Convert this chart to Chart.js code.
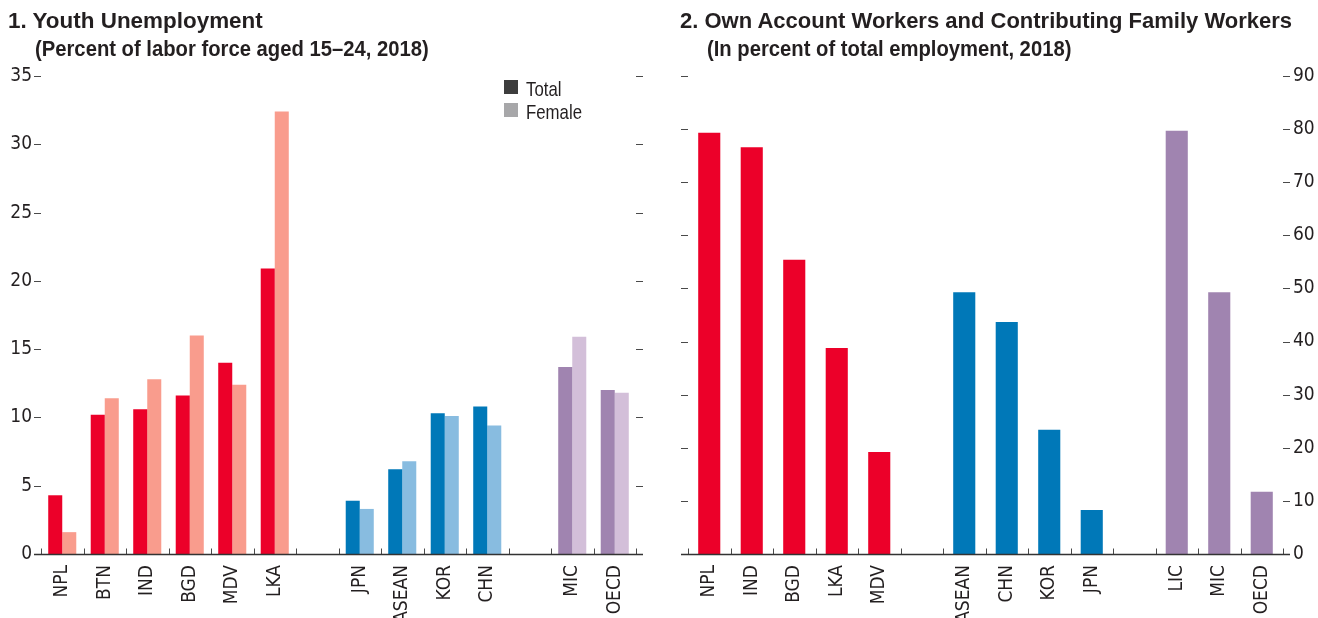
<!DOCTYPE html>
<html>
<head>
<meta charset="utf-8">
<script src="https://cdn.jsdelivr.net/npm/chart.js@4.4.1/dist/chart.umd.min.js"></script>
<style>
  body { margin: 0; background: #fff; }
  #wrap { position: relative; width: 1318px; height: 618px; overflow: hidden;
          font-family: "Liberation Sans", Arial, sans-serif; color: #231f20; }
  .panel { position: absolute; top: 0; width: 659px; height: 618px; }
  .title { position: absolute; font-weight: bold; font-size: 22px; line-height: 28px; white-space: nowrap; }
  .title span { display: block; transform-origin: left top; }
  .title .head { transform: scaleX(1.02); }
  .title .head.wide { transform: scaleX(1.0); }
  .title .sub { margin-left: 27px; transform: scaleX(0.92); }
  .legend { position: absolute; left: 504px; top: 77px; font-size: 21px; line-height: 23px; }
  .legend div { position: relative; padding-left: 22px; height: 23px; }
  .legend i { position: absolute; left: 0; top: 3px; width: 14px; height: 14px; }
  .legend span { display: inline-block; transform: scaleX(0.8); transform-origin: left center; }
</style>
</head>
<body>
<div id="wrap">
  <div class="panel" style="left:0"><canvas id="youth" width="659" height="618"></canvas></div>
  <div class="panel" style="left:659px"><canvas id="ownAccount" width="659" height="618"></canvas></div>
  <div class="title" style="left:8px;top:7px">
    <span class="head">1. Youth Unemployment</span>
    <span class="sub">(Percent of labor force aged 15–24, 2018)</span>
  </div>
  <div class="title" style="left:680px;top:7px">
    <span class="head wide">2. Own Account Workers and Contributing Family Workers</span>
    <span class="sub">(In percent of total employment, 2018)</span>
  </div>
  <div class="legend">
    <div><i style="background:#3d3d3d"></i><span>Total</span></div>
    <div><i style="background:#a7a7a9"></i><span>Female</span></div>
  </div>
</div>
<script>
// panel 1: youth unemployment
const youthLabels = ['NPL', 'BTN', 'IND', 'BGD', 'MDV', 'LKA', '', 'JPN', 'ASEAN', 'KOR', 'CHN', '', 'MIC', 'OECD'];
const youthGroups = ['sa', 'sa', 'sa', 'sa', 'sa', 'sa', '', 'ea', 'ea', 'ea', 'ea', '', 'ref', 'ref'];
const youthTotal = [4.3, 10.2, 10.6, 11.6, 14.0, 20.9, null, 3.9, 6.2, 10.3, 10.8, null, 13.7, 12.0];
const youthFemale = [1.6, 11.4, 12.8, 16.0, 12.4, 32.4, null, 3.3, 6.8, 10.1, 9.4, null, 15.9, 11.8];
const youthTicks = [0, 5, 10, 15, 20, 25, 30, 35];

// panel 2: own account + contributing family workers
const ownLabels = ['NPL', 'IND', 'BGD', 'LKA', 'MDV', '', 'ASEAN', 'CHN', 'KOR', 'JPN', '', 'LIC', 'MIC', 'OECD'];
const ownGroups = ['sa', 'sa', 'sa', 'sa', 'sa', '', 'ea', 'ea', 'ea', 'ea', '', 'ref', 'ref', 'ref'];
const ownShare = [79.3, 76.6, 55.4, 38.8, 19.2, null, 49.3, 43.7, 23.4, 8.3, null, 79.7, 49.3, 11.7];
const ownTicks = [0, 10, 20, 30, 40, 50, 60, 70, 80, 90];

const darkColors = { sa: '#ec0029', ea: '#0078b8', ref: '#a084b0', '': '#fff' };
const lightColors = { sa: '#f99c8d', ea: '#88bce0', ref: '#d3bfd9', '': '#fff' };

const FONT = '"DejaVu Sans Condensed", "Arial Narrow", sans-serif';
const INK = '#231f20';

// tick marks outside the plot on both sides, baseline, and category separators
const axisMarks = {
    id: 'axisMarks',
    afterDraw(chart) {
        const { ctx, chartArea: a, scales } = chart;
        const x = scales.x, y = scales.y;
        ctx.save();
        ctx.strokeStyle = '#4a4a4a';
        ctx.lineWidth = 1;
        ctx.beginPath();
        y.ticks.forEach(t => {
            if (t.value === 0) return;
            const py = Math.round(y.getPixelForValue(t.value)) + 0.5;
            ctx.moveTo(a.left - 7, py); ctx.lineTo(a.left, py);
            ctx.moveTo(a.right, py); ctx.lineTo(a.right + 7, py);
        });
        const by = Math.round(y.getPixelForValue(0)) + 0.5;
        const n = x.ticks.length;
        const w = (x.right - x.left) / n;
        for (let i = 0; i <= n; i++) {
            const px = Math.round(x.left + i * w) + 0.5;
            ctx.moveTo(px, by); ctx.lineTo(px, by - 6);
        }
        ctx.stroke();
        ctx.lineWidth = 1.5;
        ctx.strokeStyle = '#333';
        ctx.beginPath();
        ctx.moveTo(a.left - 7, by); ctx.lineTo(a.right + 7, by);
        ctx.stroke();
        ctx.restore();
    }
};

function fixedTicks(values) {
    return scale => { scale.ticks = values.map(v => ({ value: v })); };
}

new Chart(document.getElementById('youth'), {
    type: 'bar',
    data: {
        labels: youthLabels,
        datasets: [{
            label: 'Total',
            data: youthTotal,
            backgroundColor: youthGroups.map(g => darkColors[g]),
            categoryPercentage: 0.66,
            barPercentage: 1.0
        }, {
            label: 'Female',
            data: youthFemale,
            backgroundColor: youthGroups.map(g => lightColors[g]),
            categoryPercentage: 0.66,
            barPercentage: 1.0
        }]
    },
    options: {
        responsive: false,
        animation: false,
        layout: { padding: { left: 0, right: 23, top: 76, bottom: 0 } },
        plugins: { legend: { display: false }, tooltip: { enabled: false } },
        scales: {
            x: {
                grid: { display: false, drawTicks: false },
                border: { display: false },
                ticks: { color: INK, font: { family: FONT, size: 19 }, minRotation: 90, maxRotation: 90, padding: 11, autoSkip: false },
                afterFit: s => { s.height = 64; }
            },
            y: {
                min: 0, max: 35,
                afterBuildTicks: fixedTicks(youthTicks),
                grid: { display: false, drawTicks: false },
                border: { display: false },
                ticks: { color: INK, font: { family: FONT, size: 19 }, padding: 9 },
                afterFit: s => { s.width = 41; }
            }
        }
    },
    plugins: [axisMarks]
});

new Chart(document.getElementById('ownAccount'), {
    type: 'bar',
    data: {
        labels: ownLabels,
        datasets: [{
            label: 'Own account and contributing family workers',
            data: ownShare,
            backgroundColor: ownGroups.map(g => darkColors[g]),
            categoryPercentage: 0.52,
            barPercentage: 1.0
        }]
    },
    options: {
        responsive: false,
        animation: false,
        layout: { padding: { left: 29, right: 0, top: 76, bottom: 0 } },
        plugins: { legend: { display: false }, tooltip: { enabled: false } },
        scales: {
            x: {
                grid: { display: false, drawTicks: false },
                border: { display: false },
                ticks: { color: INK, font: { family: FONT, size: 19 }, minRotation: 90, maxRotation: 90, padding: 11, autoSkip: false },
                afterFit: s => { s.height = 64; }
            },
            y: {
                position: 'right',
                min: 0, max: 90,
                afterBuildTicks: fixedTicks(ownTicks),
                grid: { display: false, drawTicks: false },
                border: { display: false },
                ticks: { color: INK, font: { family: FONT, size: 19 }, padding: 10 },
                afterFit: s => { s.width = 35; }
            }
        }
    },
    plugins: [axisMarks]
});
</script>
</body>
</html>
